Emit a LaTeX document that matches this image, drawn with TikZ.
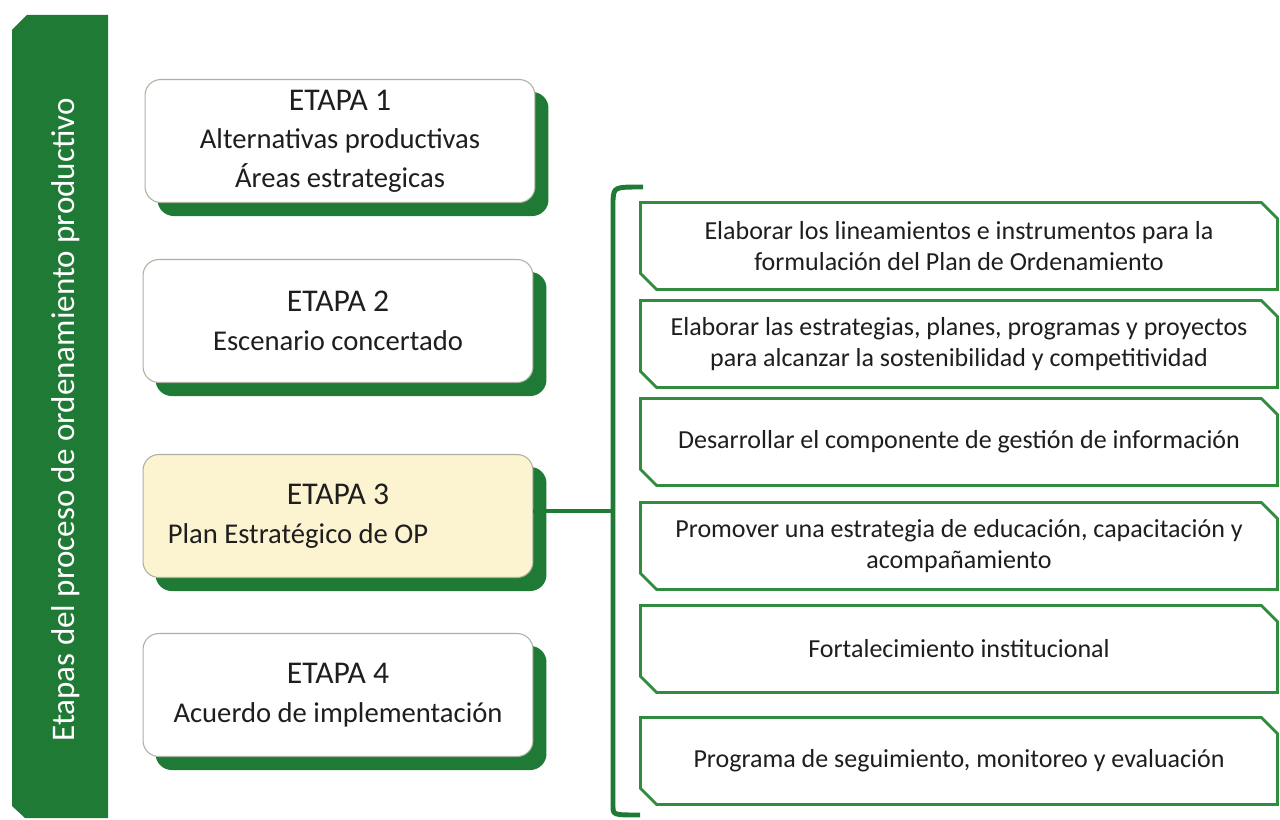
\documentclass[tikz,border=0pt]{standalone}
\usepackage{fontspec}
\setmainfont{Carlito}
\usetikzlibrary{shapes.misc,shadows}
\definecolor{verde}{RGB}{30,122,52}
\definecolor{verdelinea}{RGB}{50,140,62}
\definecolor{borde}{RGB}{170,178,160}
\definecolor{amarillo}{RGB}{252,243,208}
\definecolor{texto}{RGB}{30,30,30}
\newcommand{\tituloetapa}[1]{{\fontsize{18}{22}\selectfont #1}}
\tikzset{
  etapa/.style={draw=borde, line width=0.6pt, fill=white, rounded corners=9pt,
    minimum width=7.8cm, minimum height=2.46cm, align=center, text=texto,
    font=\fontsize{16.3}{22}\selectfont,
    copy shadow={shadow xshift=0.26cm, shadow yshift=-0.26cm, fill=verde, draw=verde}},
  accion/.style={draw=verdelinea, line width=1.6pt, fill=white, chamfered rectangle,
    chamfered rectangle corners={north east,south west}, chamfered rectangle xsep=6pt,
    minimum width=12.74cm, minimum height=1.74cm, align=center, text=texto,
    font=\fontsize{14.8}{18}\selectfont},
  llave/.style={draw=verde, line width=2.8pt}
}
\begin{document}
\begin{tikzpicture}[x=0.02cm,y=-0.02cm]
  \useasboundingbox (0,0) rectangle (1280,820);
  % barra lateral
  \fill[verde] (12,30) -- (27,15) -- (108,15) -- (108,818) -- (25,818) -- (12,806) -- cycle;
  \node[rotate=90, text=white, font=\fontsize{18.8}{22}\selectfont] (titulo) at (66,420)
    {Etapas del proceso de ordenamiento productivo};
  % etapas
  \node[etapa] (e1) at (340,141) {\tituloetapa{ETAPA 1}\\Alternativas productivas\\Áreas estrategicas};
  \node[etapa] (e2) at (338,321) {\tituloetapa{ETAPA 2}\\Escenario concertado};
  \node[etapa, fill=amarillo] (e3) at (338,516) {\tituloetapa{ETAPA 3}\\\hspace*{-1.6cm}Plan Estratégico de OP};
  \node[etapa] (e4) at (338,695) {\tituloetapa{ETAPA 4}\\Acuerdo de implementación};
  % llave
  \coordinate (ll1) at (643,187);
  \coordinate (ll2) at (613,200);
  \coordinate (ll3) at (613,806);
  \coordinate (ll4) at (640,815);
  \draw[llave] (ll1) .. controls (614,187) .. (ll2) -- (ll3) .. controls (613,815) .. (ll4);
  \draw[llave] ([yshift=0.1cm]e3.east) -- ([yshift=0.1cm]e3.east -| ll2);
  % acciones
  \node[accion] (a1) at (959,246) {Elaborar los lineamientos e instrumentos para la\\formulación del Plan de Ordenamiento};
  \node[accion] (a2) at (959,344) {Elaborar las estrategias, planes, programas y proyectos\\para alcanzar la sostenibilidad y competitividad};
  \node[accion] (a3) at (959,442) {Desarrollar el componente de gestión de información};
  \node[accion] (a4) at (959,546) {Promover una estrategia de educación, capacitación y\\acompañamiento};
  \node[accion] (a5) at (959,649) {Fortalecimiento institucional};
  \node[accion] (a6) at (959,761) {Programa de seguimiento, monitoreo y evaluación};
\end{tikzpicture}
\end{document}
